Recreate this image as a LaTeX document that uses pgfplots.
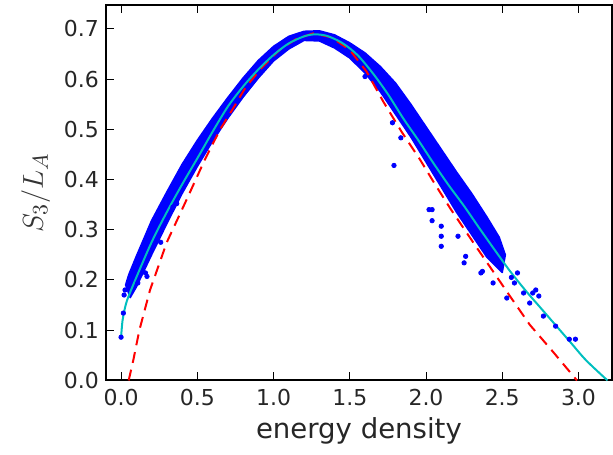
\documentclass[border=0pt]{standalone}
\usepackage{fontspec}
\setmainfont{DejaVu Sans}
\usepackage{pgfplots}
\pgfplotsset{compat=1.18}

\definecolor{bandblue}{RGB}{0,0,255}
\definecolor{fitcyan}{RGB}{0,191,191}

\begin{document}
\begin{tikzpicture}
\begin{axis}[
    scale only axis,
    width=253.5pt,
    height=188pt,
    xmin=-0.1, xmax=3.22,
    ymin=0, ymax=0.7475,
    xtick={0,0.5,1,1.5,2,2.5,3},
    ytick={0,0.1,0.2,0.3,0.4,0.5,0.6,0.7},
    tick align=inside,
    xtick pos=both,
    ytick pos=left,
    major tick length=4pt,
    tick style={black, line width=0.5pt},
    axis line style={black, line width=1pt},
    /pgf/number format/.cd, fixed, fixed zerofill, precision=1, assume math mode=true,
    /pgfplots/.cd,
    ticklabel style={font=\fontsize{11}{13}\selectfont, text=black!85},
    xticklabel style={yshift=-1pt},
    xlabel={energy density},
    ylabel={$S_3/L_A$},
    xlabel style={font=\fontsize{13.8}{15}\selectfont, text=black!85, yshift=1pt},
    ylabel style={font=\fontsize{15}{17}\selectfont, text=black!80, yshift=0pt},
    clip=false
]
% dense band of data points
\addplot[draw=bandblue, fill=bandblue, line width=0.8pt, line join=round] coordinates {
    (0.03,0.19) (0.05,0.21) (0.1,0.247) (0.2,0.318) (0.3,0.375) (0.4,0.43)
    (0.5,0.478) (0.6,0.522) (0.7,0.563) (0.8,0.602) (0.9,0.637) (1.0,0.665)
    (1.1,0.685) (1.2,0.695) (1.3,0.696) (1.4,0.688) (1.5,0.672) (1.6,0.652)
    (1.7,0.625) (1.8,0.592) (1.9,0.55) (2.0,0.505) (2.1,0.46) (2.2,0.415)
    (2.3,0.372) (2.4,0.325) (2.48,0.285) (2.52,0.25)
    (2.5,0.215) (2.4,0.245) (2.3,0.29) (2.2,0.335) (2.1,0.385) (2.0,0.435)
    (1.9,0.485) (1.8,0.53) (1.7,0.575) (1.6,0.612) (1.5,0.642) (1.4,0.662)
    (1.3,0.676) (1.2,0.677) (1.1,0.66) (1.0,0.636) (0.9,0.602) (0.8,0.564)
    (0.7,0.522) (0.6,0.476) (0.5,0.426) (0.4,0.372) (0.3,0.312) (0.2,0.25)
    (0.1,0.186) (0.06,0.165)
} -- cycle;
% scattered points outside the band
\addplot[only marks, mark=*, mark size=1.1pt, color=bandblue] coordinates {
    (0.0,0.086) (0.015,0.134) (0.026,0.18) (0.02,0.17) (0.11,0.194) (0.16,0.214)
    (0.17,0.207) (0.34,0.345) (0.365,0.352) (0.26,0.275)
    (1.60,0.605) (1.78,0.513) (1.79,0.428) (1.835,0.483)
    (2.02,0.34) (2.04,0.34) (2.04,0.318) (2.10,0.307) (2.10,0.287) (2.10,0.267) (2.21,0.287)
    (2.26,0.247) (2.25,0.234) (2.36,0.214) (2.37,0.217) (2.44,0.194)
    (2.53,0.164) (2.60,0.214) (2.58,0.194) (2.56,0.205) (2.64,0.174) (2.70,0.174)
    (2.72,0.18) (2.74,0.168) (2.68,0.154) (2.77,0.128) (2.85,0.108)
    (2.94,0.082) (2.98,0.082)
};
% red dashed curve
\addplot[red, line width=1pt, dash pattern=on 5.5pt off 3.5pt] coordinates {
    (0.05,0.0) (0.08,0.04) (0.12,0.10) (0.19,0.18) (0.3,0.275) (0.43,0.36)
    (0.55,0.44) (0.65,0.5) (0.73,0.539) (0.82,0.585) (0.93,0.625) (1.04,0.658)
    (1.15,0.68) (1.26,0.691) (1.38,0.683) (1.5,0.658) (1.61,0.615) (1.72,0.555)
    (1.84,0.495) (1.96,0.44) (2.06,0.39) (2.16,0.342) (2.32,0.27) (2.44,0.217)
    (2.55,0.168) (2.68,0.111) (2.83,0.058) (2.99,0.0)
};
% cyan fit
\addplot[fitcyan, line width=1pt, smooth] coordinates {
    (0.0,0.086) (0.01,0.12) (0.03,0.15) (0.05,0.168) (0.1,0.205) (0.2,0.275)
    (0.3,0.335) (0.4,0.39) (0.5,0.442) (0.6,0.495) (0.7,0.545) (0.8,0.585)
    (0.9,0.619) (1.0,0.648) (1.1,0.671) (1.2,0.685) (1.27,0.689) (1.35,0.686)
    (1.45,0.672) (1.55,0.648) (1.65,0.612) (1.75,0.57) (1.85,0.522) (1.95,0.478)
    (2.05,0.432) (2.15,0.388) (2.25,0.347) (2.35,0.303) (2.45,0.26) (2.55,0.218)
    (2.65,0.18) (2.75,0.145) (2.85,0.11) (2.95,0.075) (3.05,0.04) (3.19,0.0)
};
\end{axis}
\path ([yshift=2.5pt]current axis.north);
\path (current axis.south west) ++(-53pt,-37pt);
\end{tikzpicture}
\end{document}
